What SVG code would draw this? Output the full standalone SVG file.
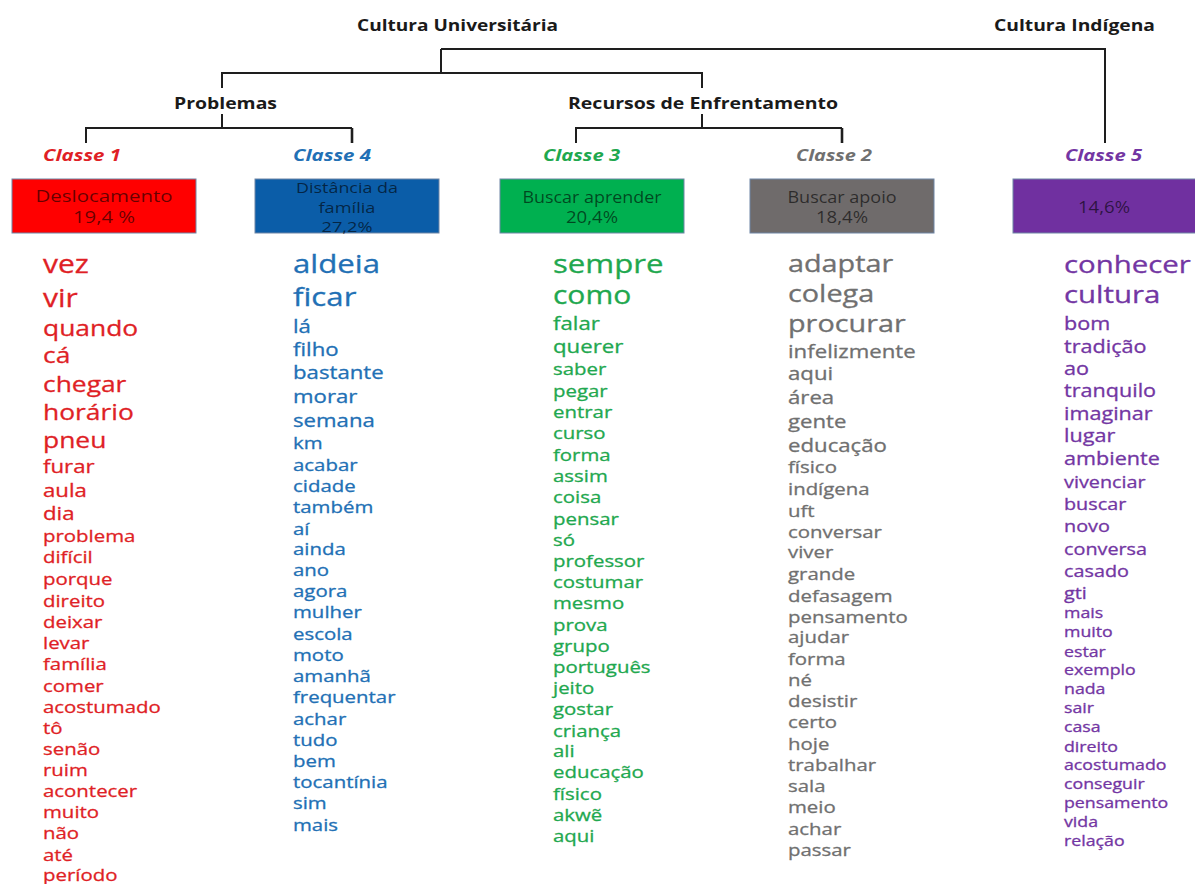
<svg xmlns="http://www.w3.org/2000/svg" width="1195" height="884" viewBox="0 0 1195 884">
<style>
  text{font-family:"Open Sans","DejaVu Sans",sans-serif}
  .h{font-weight:700;font-size:16.5px;fill:#1a1a1a}
  .cl{font-weight:700;font-style:italic;font-size:16.5px}
  .bt{font-size:16px;fill:#000;fill-opacity:.6;text-anchor:middle}
  .bs{font-size:14.5px}
  .box{stroke:#6f86a6;stroke-width:1}
  .red{fill:#DF1F26}.blue{fill:#2270B5}.green{fill:#1FA84F}.gray{fill:#707070}.purple{fill:#7336A3}
  g.red{stroke:#DF1F26}g.blue{stroke:#2270B5}g.green{stroke:#1FA84F}g.gray{stroke:#707070}g.purple{stroke:#7336A3}
  g.words{stroke-width:.3}
  .conn{fill:none;stroke:#1e1e1e;stroke-width:2}
</style>
<rect width="1195" height="884" fill="#fff"/>
<g id="connectors" class="conn">
  <path d="M441,49 H1105 V143"/>
  <path d="M441,49 V73"/>
  <path d="M222,88 V73 H702 V88"/>
  <path d="M222,114 V128"/>
  <path d="M86,143 V128 H352"/>
  <path d="M352,128 V143" stroke-width="2.6"/>
  <path d="M702,114 V128"/>
  <path d="M576,143 V128 H842"/>
  <path d="M842,128 V143" stroke-width="2.6"/>
</g>
<g id="cultura-universitaria"><text class="h" x="357" y="31" textLength="201" lengthAdjust="spacingAndGlyphs">Cultura Universitária</text></g>
<g id="cultura-indigena"><text class="h" x="994" y="31" textLength="161" lengthAdjust="spacingAndGlyphs">Cultura Indígena</text></g>
<g id="problemas"><text class="h" x="174" y="109" textLength="103" lengthAdjust="spacingAndGlyphs">Problemas</text></g>
<g id="recursos"><text class="h" x="568" y="109" textLength="270" lengthAdjust="spacingAndGlyphs">Recursos de Enfrentamento</text></g>

<g id="classe1">
  <text class="cl red" x="43" y="161" textLength="78" lengthAdjust="spacingAndGlyphs">Classe 1</text>
  <rect class="box" x="12" y="179" width="184" height="54" fill="#FF0000"/>
  <text class="bt" x="104" y="202" textLength="137" lengthAdjust="spacingAndGlyphs">Deslocamento</text>
  <text class="bt" x="104" y="223" textLength="62" lengthAdjust="spacingAndGlyphs">19,4 %</text>
  <g class="red words" transform="translate(43,0) scale(1.2,1)">
    <text x="0" y="273" font-size="25">vez</text>
    <text x="0" y="307" font-size="25">vir</text>
    <text x="0" y="336" font-size="22">quando</text>
    <text x="0" y="363" font-size="22">cá</text>
    <text x="0" y="392" font-size="22">chegar</text>
    <text x="0" y="420" font-size="22">horário</text>
    <text x="0" y="448" font-size="22">pneu</text>
    <text x="0" y="473" font-size="18.5">furar</text>
    <text x="0" y="497" font-size="18.5">aula</text>
    <text x="0" y="520" font-size="18.5">dia</text>
    <text x="0" y="542" font-size="17">problema</text>
    <text x="0" y="563" font-size="17">difícil</text>
    <text x="0" y="585" font-size="17">porque</text>
    <text x="0" y="607" font-size="17">direito</text>
    <text x="0" y="628" font-size="17">deixar</text>
    <text x="0" y="649" font-size="17">levar</text>
    <text x="0" y="670" font-size="17">família</text>
    <text x="0" y="692" font-size="17">comer</text>
    <text x="0" y="713" font-size="17">acostumado</text>
    <text x="0" y="734" font-size="17">tô</text>
    <text x="0" y="755" font-size="17">senão</text>
    <text x="0" y="776" font-size="17">ruim</text>
    <text x="0" y="797" font-size="17">acontecer</text>
    <text x="0" y="818" font-size="17">muito</text>
    <text x="0" y="839" font-size="17">não</text>
    <text x="0" y="861" font-size="17">até</text>
    <text x="0" y="881" font-size="17">período</text>
  </g>
</g>

<g id="classe4">
  <text class="cl blue" x="293" y="161" textLength="78" lengthAdjust="spacingAndGlyphs">Classe 4</text>
  <rect class="box" x="255" y="179" width="184" height="54" fill="#0B5DA8"/>
  <text class="bt bs" x="347" y="193" textLength="102" lengthAdjust="spacingAndGlyphs">Distância da</text>
  <text class="bt bs" x="347" y="213" textLength="57" lengthAdjust="spacingAndGlyphs">família</text>
  <text class="bt bs" x="347" y="232" textLength="51" lengthAdjust="spacingAndGlyphs">27,2%</text>
  <g class="blue words" transform="translate(293,0) scale(1.2,1)">
    <text x="0" y="273" font-size="26">aldeia</text>
    <text x="0" y="306" font-size="26">ficar</text>
    <text x="0" y="333" font-size="18.5">lá</text>
    <text x="0" y="356" font-size="18.5">filho</text>
    <text x="0" y="379" font-size="18.5">bastante</text>
    <text x="0" y="403" font-size="18.5">morar</text>
    <text x="0" y="427" font-size="18.5">semana</text>
    <text x="0" y="449" font-size="17">km</text>
    <text x="0" y="471" font-size="17">acabar</text>
    <text x="0" y="492" font-size="17">cidade</text>
    <text x="0" y="513" font-size="17">também</text>
    <text x="0" y="535" font-size="17">aí</text>
    <text x="0" y="555" font-size="17">ainda</text>
    <text x="0" y="576" font-size="17">ano</text>
    <text x="0" y="597" font-size="17">agora</text>
    <text x="0" y="618" font-size="17">mulher</text>
    <text x="0" y="640" font-size="17">escola</text>
    <text x="0" y="661" font-size="17">moto</text>
    <text x="0" y="682" font-size="17">amanhã</text>
    <text x="0" y="703" font-size="17">frequentar</text>
    <text x="0" y="725" font-size="17">achar</text>
    <text x="0" y="746" font-size="17">tudo</text>
    <text x="0" y="767" font-size="17">bem</text>
    <text x="0" y="788" font-size="17">tocantínia</text>
    <text x="0" y="809" font-size="17">sim</text>
    <text x="0" y="831" font-size="17">mais</text>
  </g>
</g>

<g id="classe3">
  <text class="cl green" x="543" y="161" textLength="77" lengthAdjust="spacingAndGlyphs">Classe 3</text>
  <rect class="box" x="500" y="179" width="184" height="54" fill="#00B050"/>
  <text class="bt" x="592" y="203" textLength="139" lengthAdjust="spacingAndGlyphs">Buscar aprender</text>
  <text class="bt" x="592" y="223" textLength="52" lengthAdjust="spacingAndGlyphs">20,4%</text>
  <g class="green words" transform="translate(553,0) scale(1.2,1)">
    <text x="0" y="273" font-size="26">sempre</text>
    <text x="0" y="304" font-size="25">como</text>
    <text x="0" y="330" font-size="18.5">falar</text>
    <text x="0" y="353" font-size="18.5">querer</text>
    <text x="0" y="375" font-size="17">saber</text>
    <text x="0" y="397" font-size="17">pegar</text>
    <text x="0" y="418" font-size="17">entrar</text>
    <text x="0" y="439" font-size="17">curso</text>
    <text x="0" y="461" font-size="17">forma</text>
    <text x="0" y="482" font-size="17">assim</text>
    <text x="0" y="503" font-size="17">coisa</text>
    <text x="0" y="525" font-size="17">pensar</text>
    <text x="0" y="546" font-size="17">só</text>
    <text x="0" y="567" font-size="17">professor</text>
    <text x="0" y="588" font-size="17">costumar</text>
    <text x="0" y="609" font-size="17">mesmo</text>
    <text x="0" y="631" font-size="17">prova</text>
    <text x="0" y="652" font-size="17">grupo</text>
    <text x="0" y="673" font-size="17">português</text>
    <text x="0" y="694" font-size="17">jeito</text>
    <text x="0" y="715" font-size="17">gostar</text>
    <text x="0" y="737" font-size="17">criança</text>
    <text x="0" y="757" font-size="17">ali</text>
    <text x="0" y="778" font-size="17">educação</text>
    <text x="0" y="800" font-size="17">físico</text>
    <text x="0" y="821" font-size="17">akwẽ</text>
    <text x="0" y="842" font-size="17">aqui</text>
  </g>
</g>

<g id="classe2">
  <text class="cl gray" x="796" y="161" textLength="76" lengthAdjust="spacingAndGlyphs">Classe 2</text>
  <rect class="box" x="750" y="179" width="184" height="54" fill="#6F6B6B"/>
  <text class="bt" x="842" y="203" textLength="109" lengthAdjust="spacingAndGlyphs">Buscar apoio</text>
  <text class="bt" x="842" y="223" textLength="52" lengthAdjust="spacingAndGlyphs">18,4%</text>
  <g class="gray words" transform="translate(788,0) scale(1.2,1)">
    <text x="0" y="272" font-size="24">adaptar</text>
    <text x="0" y="302" font-size="24">colega</text>
    <text x="0" y="332" font-size="24">procurar</text>
    <text x="0" y="358" font-size="18.5">infelizmente</text>
    <text x="0" y="380" font-size="18.5">aqui</text>
    <text x="0" y="404" font-size="18.5">área</text>
    <text x="0" y="428" font-size="18.5">gente</text>
    <text x="0" y="452" font-size="18.5">educação</text>
    <text x="0" y="473" font-size="17">físico</text>
    <text x="0" y="495" font-size="17">indígena</text>
    <text x="0" y="517" font-size="17">uft</text>
    <text x="0" y="538" font-size="17">conversar</text>
    <text x="0" y="558" font-size="17">viver</text>
    <text x="0" y="580" font-size="17">grande</text>
    <text x="0" y="602" font-size="17">defasagem</text>
    <text x="0" y="623" font-size="17">pensamento</text>
    <text x="0" y="643" font-size="17">ajudar</text>
    <text x="0" y="665" font-size="17">forma</text>
    <text x="0" y="686" font-size="17">né</text>
    <text x="0" y="707" font-size="17">desistir</text>
    <text x="0" y="728" font-size="17">certo</text>
    <text x="0" y="750" font-size="17">hoje</text>
    <text x="0" y="771" font-size="17">trabalhar</text>
    <text x="0" y="792" font-size="17">sala</text>
    <text x="0" y="813" font-size="17">meio</text>
    <text x="0" y="835" font-size="17">achar</text>
    <text x="0" y="856" font-size="17">passar</text>
  </g>
</g>

<g id="classe5">
  <text class="cl purple" x="1065" y="161" textLength="77" lengthAdjust="spacingAndGlyphs">Classe 5</text>
  <rect class="box" x="1013" y="179" width="184" height="54" fill="#7030A0"/>
  <text class="bt" x="1104" y="213" textLength="52" lengthAdjust="spacingAndGlyphs">14,6%</text>
  <g class="purple words" transform="translate(1064,0) scale(1.2,1)">
    <text x="0" y="273" font-size="24.5">conhecer</text>
    <text x="0" y="303" font-size="24.5">cultura</text>
    <text x="0" y="330" font-size="18">bom</text>
    <text x="0" y="353" font-size="18">tradição</text>
    <text x="0" y="375" font-size="18">ao</text>
    <text x="0" y="397" font-size="18">tranquilo</text>
    <text x="0" y="420" font-size="18">imaginar</text>
    <text x="0" y="442" font-size="18">lugar</text>
    <text x="0" y="465" font-size="18">ambiente</text>
    <text x="0" y="488" font-size="16.5">vivenciar</text>
    <text x="0" y="510" font-size="16.5">buscar</text>
    <text x="0" y="532" font-size="16.5">novo</text>
    <text x="0" y="555" font-size="16.5">conversa</text>
    <text x="0" y="577" font-size="16.5">casado</text>
    <text x="0" y="599" font-size="16.5">gti</text>
    <text x="0" y="618" font-size="14.8">mais</text>
    <text x="0" y="637" font-size="14.8">muito</text>
    <text x="0" y="657" font-size="14.8">estar</text>
    <text x="0" y="675" font-size="14.8">exemplo</text>
    <text x="0" y="694" font-size="14.8">nada</text>
    <text x="0" y="713" font-size="14.8">sair</text>
    <text x="0" y="732" font-size="14.8">casa</text>
    <text x="0" y="752" font-size="14.8">direito</text>
    <text x="0" y="770" font-size="14.8">acostumado</text>
    <text x="0" y="789" font-size="14.8">conseguir</text>
    <text x="0" y="808" font-size="14.8">pensamento</text>
    <text x="0" y="827" font-size="14.8">vida</text>
    <text x="0" y="846" font-size="14.8">relação</text>
  </g>
</g>
</svg>
